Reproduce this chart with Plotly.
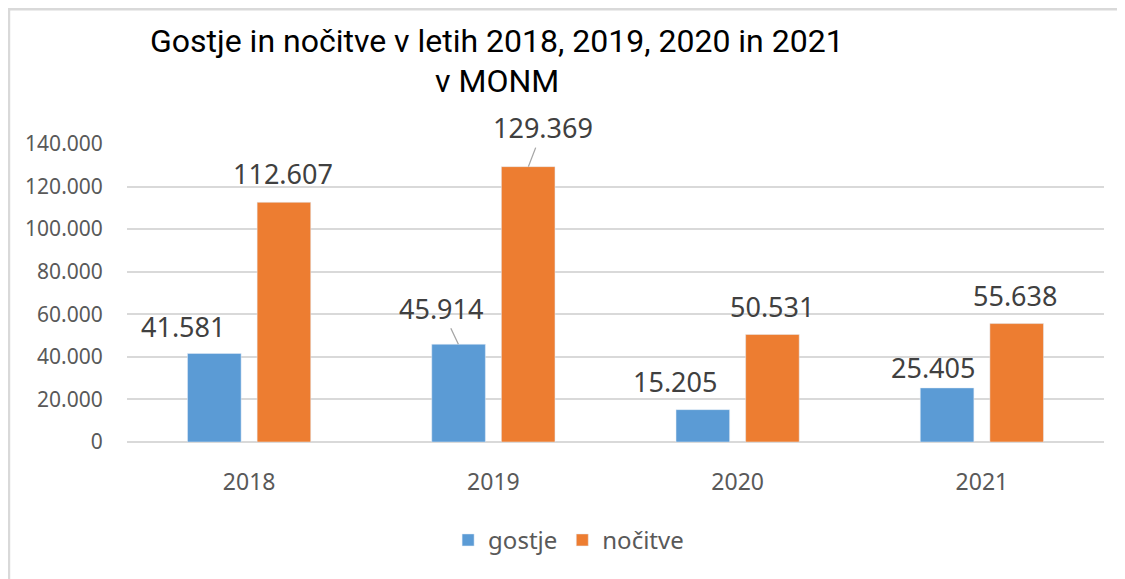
import plotly.graph_objects as go

years = ["2018", "2019", "2020", "2021"]
gostje = [41581, 45914, 15205, 25405]
nocitve = [112607, 129369, 50531, 55638]
series_names = ["gostje", "nočitve"]
tick_vals = [0, 20000, 40000, 60000, 80000, 100000, 120000, 140000]
tick_text = ["0", "20.000", "40.000", "60.000", "80.000", "100.000", "120.000", "140.000"]
title_lines = ["Gostje in nočitve v letih 2018, 2019, 2020 in 2021", "v MONM"]

BLUE = "#5B9BD5"
ORANGE = "#ED7D31"
TXT = "#404040"
AX = "#595959"
GRID = "#D9D9D9"
FONT = "Noto Sans, Open Sans, sans-serif"
TFONT = "Roboto, sans-serif"


def fmt(v):
    return f"{v:,}".replace(",", ".")


fig = go.Figure()
fig.add_trace(go.Bar(x=years, y=gostje, name=series_names[0], marker_color=BLUE))
fig.add_trace(go.Bar(x=years, y=nocitve, name=series_names[1], marker_color=ORANGE))

# label placement offsets (pixels): (xshift, yshift) relative to category centre / bar top
g_off = [(-66, 27), (None, None), (-63, 28), (-49, 20)]
n_off = [(34, 29), (None, None), (34, 28), (33, 28)]

for i, yr in enumerate(years):
    for vals, offs, tip_dx, arr in ((gostje, g_off, -35, (-17, -36)), (nocitve, n_off, 35, (15, -39))):
        v = vals[i]
        if offs[i][0] is None:
            fig.add_annotation(x=i, y=v, xref="x", yref="y", text=fmt(v),
                               showarrow=True, arrowhead=0, arrowwidth=1.3,
                               arrowcolor="#A6A6A6", ax=arr[0], ay=arr[1],
                               xanchor="center", yanchor="middle",
                               xshift=tip_dx, standoff=0,
                               font=dict(family=FONT, size=27, color=TXT))
        else:
            fig.add_annotation(x=i, y=v, xref="x", yref="y", text=fmt(v),
                               showarrow=False, xshift=offs[i][0], yshift=offs[i][1],
                               xanchor="center", yanchor="middle",
                               font=dict(family=FONT, size=27, color=TXT))

fig.add_annotation(x=0.3786, y=1.345, xref="paper", yref="paper", text=title_lines[0],
                   showarrow=False, xanchor="center", yanchor="middle",
                   font=dict(family=TFONT, size=32, color="#000000"))
fig.add_annotation(x=0.3786, y=1.211, xref="paper", yref="paper", text=title_lines[1],
                   showarrow=False, xanchor="center", yanchor="middle",
                   font=dict(family=TFONT, size=32, color="#000000"))

# chart-area border (left and top edges visible)
fig.add_shape(type="rect", xref="paper", yref="paper", x0=-0.1208, x1=1.1, y0=-0.7, y1=1.452,
              line=dict(color=GRID, width=2.5), fillcolor="rgba(0,0,0,0)", layer="below")

fig.update_layout(
    width=1125, height=579,
    margin=dict(l=119, r=29, t=136, b=145, autoexpand=False),
    paper_bgcolor="white", plot_bgcolor="white",
    barmode="group", bargap=0.43, bargroupgap=0.23,
    showlegend=True,
    legend=dict(orientation="h", x=0.452, xanchor="center", y=-0.33, yanchor="middle",
                font=dict(family=FONT, size=24, color=AX),
                traceorder="normal"),
    font=dict(family=FONT, color=AX),
)
fig.update_xaxes(type="category", range=[-0.5, 3.5], autorange=False,
                 showgrid=False, showline=False,
                 ticks="outside", ticklen=19, tickcolor="rgba(0,0,0,0)",
                 tickfont=dict(family=FONT, size=23, color=AX))
fig.update_yaxes(range=[0, 140000], autorange=False, tickvals=tick_vals, ticktext=tick_text,
                 showgrid=True, gridcolor=GRID, gridwidth=1.5, zeroline=True,
                 zerolinecolor=GRID, zerolinewidth=1.5, showline=False,
                 ticks="outside", ticklen=19, tickcolor="rgba(0,0,0,0)",
                 tickfont=dict(family=FONT, size=21, color=AX))

fig.write_html("out.html")
